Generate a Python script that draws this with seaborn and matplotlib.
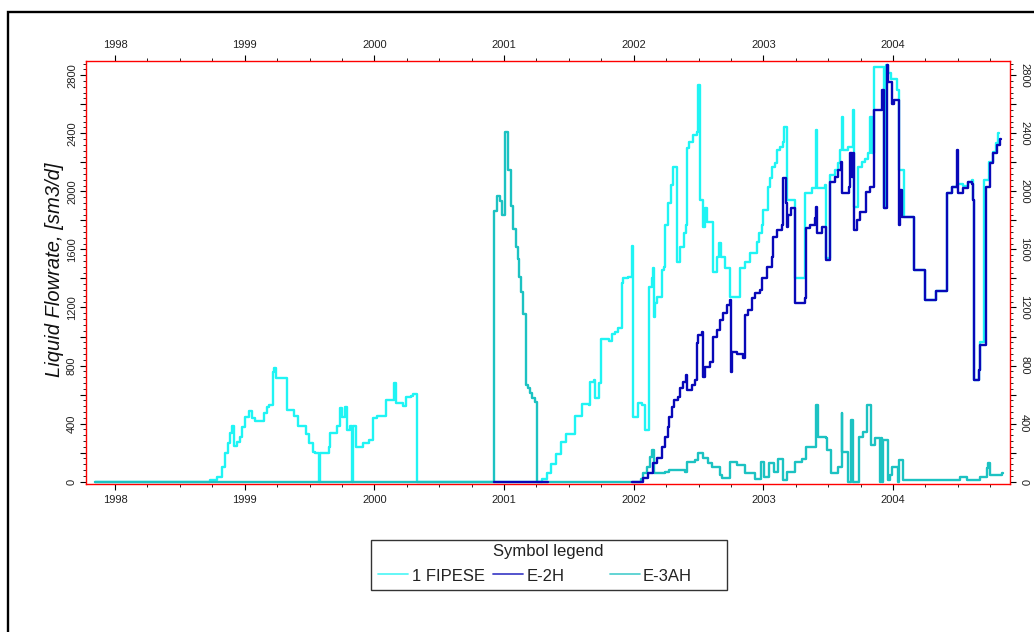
import numpy as np
import pandas as pd
import seaborn as sns
import matplotlib.pyplot as plt
from matplotlib.ticker import MultipleLocator, FuncFormatter
from matplotlib.lines import Line2D
from matplotlib.patches import Rectangle

# ---------------------------------------------------------------------------
# Liquid flow rate per well (decimal year, sm3/d), stepwise history
# ---------------------------------------------------------------------------
wells = ["1 FIPESE", "E-2H", "E-3AH"]

fipese_t = [1997.846, 1998.733, 1998.784, 1998.823, 1998.848, 1998.874, 1998.887, 1998.900,
            1998.918, 1998.940, 1998.964, 1998.977, 1999.003, 1999.036, 1999.054, 1999.080,
            1999.150, 1999.170, 1999.190, 1999.216, 1999.229, 1999.242, 1999.324, 1999.380,
            1999.409, 1999.473, 1999.496, 1999.525, 1999.545, 1999.576, 1999.583, 1999.653,
            1999.658, 1999.710, 1999.735, 1999.748, 1999.774, 1999.787, 1999.812, 1999.825,
            1999.833, 1999.858, 1999.915, 1999.960, 1999.987, 1999.992, 2000.018, 2000.087,
            2000.154, 2000.167, 2000.223, 2000.244, 2000.280, 2000.301, 2000.327, 2001.251,
            2001.290, 2001.330, 2001.363, 2001.403, 2001.442, 2001.481, 2001.547, 2001.599,
            2001.652, 2001.666, 2001.692, 2001.699, 2001.736, 2001.744, 2001.810, 2001.836,
            2001.856, 2001.875, 2001.907, 2001.920, 2001.959, 2001.990, 2001.997, 2002.036,
            2002.062, 2002.087, 2002.118, 2002.140, 2002.151, 2002.160, 2002.164, 2002.177,
            2002.216, 2002.236, 2002.242, 2002.267, 2002.288, 2002.306, 2002.332, 2002.357,
            2002.388, 2002.401, 2002.409, 2002.427, 2002.460, 2002.486, 2002.498, 2002.514,
            2002.532, 2002.550, 2002.563, 2002.614, 2002.640, 2002.660, 2002.673, 2002.704,
            2002.743, 2002.820, 2002.858, 2002.897, 2002.949, 2002.966, 2002.987, 2003.000,
            2003.038, 2003.051, 2003.064, 2003.090, 2003.103, 2003.128, 2003.154, 2003.159,
            2003.180, 2003.244, 2003.321, 2003.373, 2003.406, 2003.416, 2003.475, 2003.483,
            2003.514, 2003.552, 2003.573, 2003.591, 2003.604, 2003.612, 2003.655, 2003.689,
            2003.697, 2003.732, 2003.758, 2003.784, 2003.810, 2003.823, 2003.840, 2003.856,
            2003.930, 2003.945, 2003.964, 2003.985, 2004.028, 2004.046, 2004.085, 2004.164,
            2004.247, 2004.331, 2004.414, 2004.453, 2004.491, 2004.542, 2004.581, 2004.607,
            2004.619, 2004.624, 2004.663, 2004.668, 2004.705, 2004.740, 2004.770, 2004.795,
            2004.812]
fipese_q = [0, 10, 34, 103, 197, 264, 335, 383,
            246, 275, 310, 379, 448, 487, 436, 420,
            471, 516, 528, 757, 781, 712, 494, 452,
            383, 328, 269, 207, 196, 0, 196, 241,
            333, 383, 505, 448, 516, 356, 383, 0,
            383, 241, 269, 290, 310, 436, 453, 562,
            677, 540, 521, 581, 590, 604, 0, 0,
            19, 60, 120, 190, 270, 328, 450, 535,
            525, 690, 700, 575, 680, 980, 970, 1015,
            1030, 1060, 1366, 1400, 1411, 1623, 448, 540,
            528, 356, 1343, 1400, 1469, 1136, 1228, 1274,
            1458, 1480, 1767, 1917, 2043, 2169, 1515, 1618,
            1710, 1767, 2296, 2341, 2387, 2410, 2731, 1940,
            1756, 1882, 1790, 1446, 1549, 1641, 1549, 1469,
            1274, 1469, 1515, 1572, 1652, 1710, 1767, 1871,
            2031, 2089, 2169, 2192, 2284, 2307, 2341, 2444,
            1940, 1400, 1986, 2020, 2421, 2020, 2043, 1540,
            2112, 2146, 2192, 2284, 2513, 2284, 2307, 2559,
            1893, 2169, 2203, 2226, 2261, 2513, 2261, 2857,
            1882, 2869, 2812, 2777, 2697, 2146, 1825, 1458,
            1251, 1315, 1986, 2031, 2050, 2040, 2066, 2080,
            1940, 700, 769, 960, 2080, 2200, 2270, 2330,
            2399]

# E-2H: two producing periods (segment 1 shut-in line, segment 2 production)
e2h_t1 = [2000.920, 2001.330]
e2h_q1 = [0, 0]
e2h_t2 = [2001.990, 2002.074, 2002.113, 2002.151, 2002.177, 2002.216, 2002.242, 2002.262,
          2002.272, 2002.293, 2002.313, 2002.344, 2002.357, 2002.383, 2002.401, 2002.409,
          2002.447, 2002.473, 2002.486, 2002.498, 2002.529, 2002.537, 2002.550, 2002.589,
          2002.614, 2002.640, 2002.666, 2002.691, 2002.717, 2002.743, 2002.748, 2002.756,
          2002.795, 2002.846, 2002.858, 2002.884, 2002.910, 2002.936, 2002.974, 2002.987,
          2003.026, 2003.064, 2003.077, 2003.103, 2003.141, 2003.154, 2003.172, 2003.180,
          2003.193, 2003.210, 2003.244, 2003.321, 2003.327, 2003.360, 2003.398, 2003.406,
          2003.416, 2003.450, 2003.483, 2003.514, 2003.552, 2003.578, 2003.599, 2003.609,
          2003.661, 2003.668, 2003.681, 2003.694, 2003.701, 2003.720, 2003.745, 2003.792,
          2003.823, 2003.856, 2003.913, 2003.918, 2003.933, 2003.951, 2003.964, 2003.990,
          2004.010, 2004.046, 2004.054, 2004.072, 2004.164, 2004.247, 2004.331, 2004.414,
          2004.453, 2004.491, 2004.499, 2004.542, 2004.581, 2004.607, 2004.619, 2004.624,
          2004.663, 2004.671, 2004.715, 2004.748, 2004.774, 2004.799, 2004.825]
e2h_q2 = [0, 23, 58, 127, 161, 241, 310, 379,
          448, 516, 562, 585, 643, 689, 735, 631,
          666, 700, 953, 1010, 1033, 723, 792, 826,
          998, 1044, 1113, 1159, 1217, 1251, 757, 895,
          883, 849, 1148, 1182, 1263, 1297, 1320, 1400,
          1480, 1549, 1687, 1733, 1767, 2089, 1917, 1756,
          1836, 1882, 1228, 1263, 1745, 1767, 1813, 1893,
          1710, 1756, 1526, 2066, 2100, 2146, 2203, 1986,
          2031, 2261, 2100, 2261, 1733, 1802, 1859, 1997,
          2031, 2559, 2571, 2697, 1882, 2869, 2754, 2605,
          2628, 1767, 2008, 1825, 1458, 1251, 1315, 1986,
          2031, 2284, 1986, 2020, 2066, 2054, 1940, 700,
          769, 941, 2031, 2192, 2261, 2318, 2364]

e3ah_t = [1997.846, 2000.920, 2000.948, 2000.970, 2000.986, 2001.005, 2001.031, 2001.052,
          2001.070, 2001.092, 2001.105, 2001.113, 2001.131, 2001.150, 2001.171, 2001.184,
          2001.197, 2001.219, 2001.237, 2001.251, 2002.060, 2002.074, 2002.100, 2002.126,
          2002.139, 2002.155, 2002.242, 2002.270, 2002.396, 2002.409, 2002.473, 2002.498,
          2002.537, 2002.576, 2002.602, 2002.666, 2002.679, 2002.743, 2002.795, 2002.858,
          2002.936, 2002.979, 2003.007, 2003.046, 2003.082, 2003.110, 2003.154, 2003.185,
          2003.244, 2003.295, 2003.329, 2003.406, 2003.419, 2003.483, 2003.488, 2003.519,
          2003.573, 2003.604, 2003.609, 2003.650, 2003.673, 2003.691, 2003.740, 2003.771,
          2003.797, 2003.830, 2003.860, 2003.898, 2003.904, 2003.915, 2003.922, 2003.959,
          2003.977, 2003.990, 2004.036, 2004.046, 2004.080, 2004.516, 2004.568, 2004.671,
          2004.722, 2004.735, 2004.748, 2004.838]
e3ah_q = [0, 1862, 1968, 1933, 1838, 2412, 2145, 1897,
          1744, 1614, 1531, 1413, 1307, 1153, 669, 645,
          610, 574, 551, 0, 20, 58, 103, 172,
          218, 60, 69, 80, 69, 138, 149, 200,
          161, 127, 103, 46, 23, 138, 115, 58,
          17, 138, 30, 131, 69, 154, 12, 69,
          138, 154, 241, 528, 310, 300, 218, 58,
          103, 471, 207, 0, 425, 0, 310, 344,
          528, 253, 299, 0, 299, 0, 290, 12,
          46, 103, 0, 149, 10, 35, 12, 35,
          97, 127, 46, 58]

colors = {"1 FIPESE": "#1ff4f4", "E-2H": "#0808b8", "E-3AH": "#1cc2c2"}


def frame(well, seg, t, q):
    # repeat the final rate so the last step is drawn to the end of the record
    t = list(t) + [t[-1] + 0.008]
    q = list(q) + [q[-1]]
    return pd.DataFrame({"year": t, "rate": q, "well": well, "segment": f"{well}-{seg}"})


df = pd.concat([
    frame("1 FIPESE", 0, fipese_t, fipese_q),
    frame("E-3AH", 0, e3ah_t, e3ah_q),
    frame("E-2H", 1, e2h_t1, e2h_q1),
    frame("E-2H", 2, e2h_t2, e2h_q2),
], ignore_index=True)

# ---------------------------------------------------------------------------
sns.set_theme(style="white")
plt.rcParams["font.family"] = ["Liberation Sans", "DejaVu Sans"]

W, H = 1034, 632
fig = plt.figure(figsize=(W / 100, H / 100), dpi=100)


def fx(x):
    return x / W


def fy(y):
    return 1 - y / H


ax_l, ax_r, ax_t, ax_b = 86, 1010, 60.7, 484.3
ax = fig.add_axes([fx(ax_l), fy(ax_b), (ax_r - ax_l) / W, (ax_b - ax_t) / H])

sns.lineplot(data=df, x="year", y="rate", hue="well", units="segment",
             estimator=None, sort=False, hue_order=["1 FIPESE", "E-3AH", "E-2H"],
             palette=colors, drawstyle="steps-post", linewidth=1.7,
             legend=False, ax=ax)

ax.set_xlim(1997.776, 2004.902)
ax.set_ylim(-18, 2900)
ax.set_xlabel("")
ax.set_ylabel("")

ax.xaxis.set_major_locator(MultipleLocator(1))
ax.xaxis.set_minor_locator(MultipleLocator(0.25))
ax.xaxis.set_major_formatter(FuncFormatter(lambda v, p: f"{int(round(v))}"))
ax.yaxis.set_major_locator(MultipleLocator(200))
ax.yaxis.set_minor_locator(MultipleLocator(40))
ax.yaxis.set_major_formatter(
    FuncFormatter(lambda v, p: f"{int(round(v))}" if int(round(v)) % 400 == 0 else ""))

for s in ax.spines.values():
    s.set_color("#ff0000")
    s.set_linewidth(1.0)

ax.tick_params(which="both", direction="out", color="black",
               top=True, bottom=True, left=True, right=True)
ax.tick_params(which="major", length=4, width=0.8, labelsize=8,
               labelcolor="#222222", pad=3.5)
ax.tick_params(which="minor", length=2, width=0.6)
ax.tick_params(axis="x", labeltop=True, labelbottom=True)
ax.tick_params(axis="y", labelleft=True, labelright=True, pad=2.5)

for tk in ax.yaxis.get_major_ticks():
    tk.label1.set_rotation(90)
    tk.label1.set_va("center")
    tk.label2.set_rotation(270)
    tk.label2.set_va("center")

fig.text(fx(55), fy(270), "Liquid Flowrate, [sm3/d]", rotation=90,
         ha="center", va="center", fontsize=14.5, style="italic", color="#111111")

# symbol legend box
fig.patches.append(Rectangle((fx(371), fy(590)), (727 - 371) / W, (590 - 540) / H,
                             transform=fig.transFigure, fill=False,
                             edgecolor="#333333", linewidth=1.0))
fig.text(fx(548), fy(551.5), "Symbol legend", ha="center", va="center",
         fontsize=12, color="#222222")
entries = [("1 FIPESE", 378, 408, 412), ("E-2H", 493, 523, 527), ("E-3AH", 610, 640, 643)]
for name, x0, x1, xt in entries:
    fig.lines.append(Line2D([fx(x0), fx(x1)], [fy(573.5), fy(573.5)],
                            transform=fig.transFigure, color=colors[name],
                            linewidth=1.3, alpha=0.75))
    fig.text(fx(xt), fy(576.5), name, ha="left", va="center",
             fontsize=12, color="#222222")

# outer page border
fig.patches.append(Rectangle((fx(8), fy(H + 20)), (W + 20) / W, (H + 8) / H,
                             transform=fig.transFigure, fill=False,
                             edgecolor="black", linewidth=1.7))

fig.savefig("out.png", dpi=100, facecolor="white")
